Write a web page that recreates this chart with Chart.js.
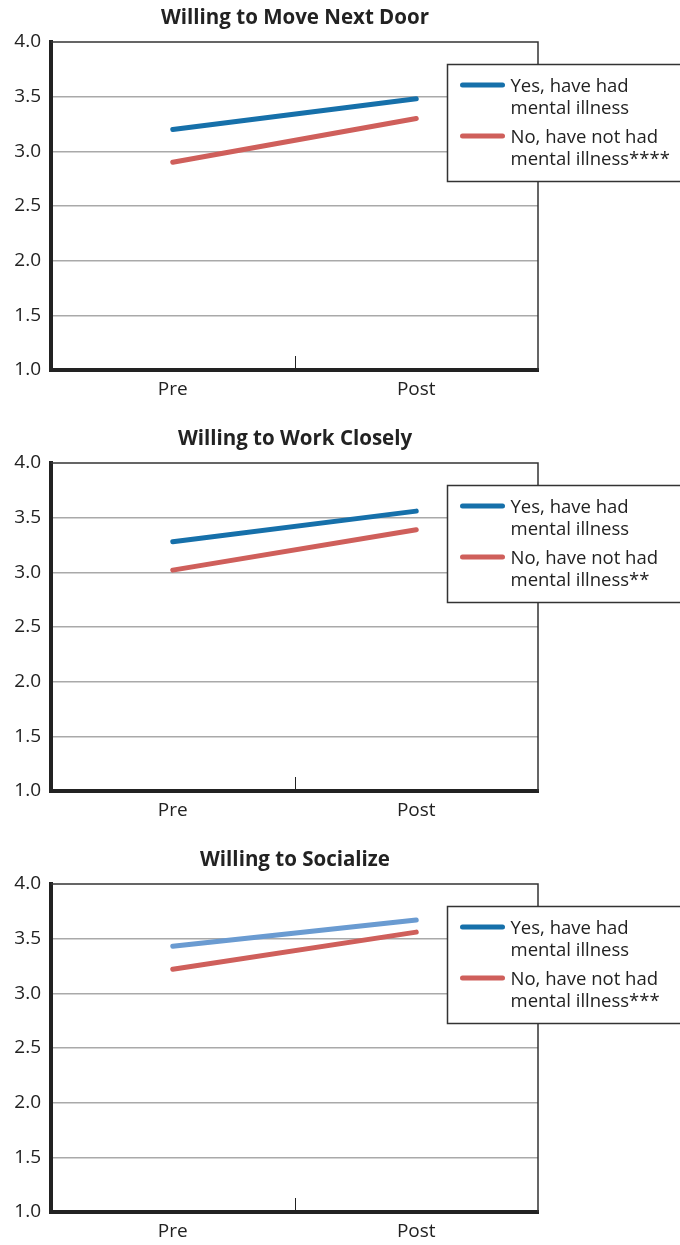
<!DOCTYPE html>
<html>
<head>
<meta charset="utf-8">
<script src="https://cdn.jsdelivr.net/npm/chart.js@4"></script>
<style>
  html, body { margin: 0; padding: 0; background: #fff; overflow: hidden; }
  body { width: 680px; height: 1245px; position: relative; }
  .panel { position: absolute; left: 0; width: 680px; height: 410px; }
</style>
</head>
<body>
<div class="panel" style="top:0px"><canvas id="chart1" width="680" height="410"></canvas></div>
<div class="panel" style="top:421px"><canvas id="chart2" width="680" height="410"></canvas></div>
<div class="panel" style="top:842px"><canvas id="chart3" width="680" height="410"></canvas></div>
<script>
// 数据
const categories = ['Pre', 'Post'];
const titles = ['Willing to Move Next Door', 'Willing to Work Closely', 'Willing to Socialize'];
const yesLabel = ['Yes, have had', 'mental illness'];
const noLabelStars = ['****', '**', '***'];

const yesMoveNextDoor = [3.2, 3.48];
const noMoveNextDoor = [2.9, 3.3];
const yesWorkClosely = [3.28, 3.56];
const noWorkClosely = [3.02, 3.39];
const yesSocialize = [3.43, 3.67];
const noSocialize = [3.22, 3.56];

const yMin = 1.0, yMax = 4.0, yStep = 0.5;

const FONT = '"Open Sans", "DejaVu Sans", sans-serif';
const BLUE = '#1670aa';
const LIGHT_BLUE = '#6a9bd1';
const RED = '#cf5f5b';

/**
 * 边框 + 中间刻度 + 标题 + 图例
 */
const framePlugin = {
    id: 'frame',
    beforeDatasetsDraw(chart) {
        let ctx = chart.ctx, a = chart.chartArea;
        ctx.save();
        ctx.strokeStyle = '#333';
        ctx.lineWidth = 1.5;
        ctx.beginPath();
        ctx.moveTo(a.left, a.top);
        ctx.lineTo(a.right, a.top);
        ctx.lineTo(a.right, a.bottom);
        ctx.stroke();

        // 中间小刻度
        let x = chart.scales.x;
        let mid = Math.round((x.getPixelForValue(0) + x.getPixelForValue(1)) / 2) + 0.5;
        ctx.strokeStyle = '#222';
        ctx.lineWidth = 1;
        ctx.beginPath();
        ctx.moveTo(mid, a.bottom - 14);
        ctx.lineTo(mid, a.bottom);
        ctx.stroke();
        ctx.restore();
    },
    afterDraw(chart, args, opts) {
        let ctx = chart.ctx, a = chart.chartArea;
        ctx.save();
        ctx.fillStyle = '#222';
        ctx.font = 'bold 20.5px ' + FONT;
        ctx.textAlign = 'center';
        ctx.textBaseline = 'middle';
        ctx.fillText(opts.title, 295, 18.5);

        // 图例
        let bx = 447.5, by = a.top + 22.5, bw = 250, bh = 117;
        ctx.fillStyle = '#fff';
        ctx.fillRect(bx, by, bw, bh);
        ctx.strokeStyle = '#333';
        ctx.lineWidth = 1.5;
        ctx.strokeRect(bx, by, bw, bh);

        ctx.font = '18.5px ' + FONT;
        ctx.textAlign = 'left';
        let rowY = [by + 21, by + 72];
        chart.data.datasets.forEach(function (ds, i) {
            let y = rowY[i];
            ctx.strokeStyle = ds.legendColor;
            ctx.lineWidth = 5;
            ctx.lineCap = 'round';
            ctx.beginPath();
            ctx.moveTo(bx + 15, y - 0.5);
            ctx.lineTo(bx + 55, y - 0.5);
            ctx.stroke();
            ctx.fillStyle = '#222';
            ds.label.forEach(function (line, j) {
                ctx.fillText(line, bx + 63, y + 1 + j * 22);
            });
        });
        ctx.restore();
    }
};

function makeChart(id, title, yesVals, noVals, stars, yesColor) {
    let canvas = document.getElementById(id).getContext('2d');
    return new Chart(canvas, {
        type: 'line',
        data: {
            labels: categories,
            datasets: [{
                label: yesLabel,
                data: yesVals,
                borderColor: yesColor,
                legendColor: BLUE,
                borderWidth: 5,
                borderCapStyle: 'round',
                pointRadius: 0
            }, {
                label: ['No, have not had', 'mental illness' + stars],
                data: noVals,
                borderColor: RED,
                legendColor: RED,
                borderWidth: 5,
                borderCapStyle: 'round',
                pointRadius: 0
            }]
        },
        options: {
            responsive: false,
            animation: false,
            layout: { padding: { top: 42, right: 142, left: 0, bottom: 0 } },
            plugins: {
                legend: { display: false },
                tooltip: { enabled: false },
                frame: { title: title }
            },
            scales: {
                x: {
                    offset: true,
                    grid: { display: false },
                    border: { display: true, color: '#222', width: 4 },
                    ticks: { color: '#222', font: { family: FONT, size: 19 }, padding: 0 },
                    afterFit: function (s) { s.height = 40; }
                },
                y: {
                    min: yMin,
                    max: yMax,
                    ticks: {
                        stepSize: yStep,
                        color: '#222',
                        padding: 10,
                        font: { family: FONT, size: 19 },
                        callback: function (v) { return v.toFixed(1); }
                    },
                    grid: {
                        drawTicks: false,
                        lineWidth: 1.5,
                        color: function (c) {
                            return (c.tick.value === yMin || c.tick.value === yMax) ? 'rgba(0,0,0,0)' : '#a9a9a9';
                        }
                    },
                    border: { display: true, color: '#222', width: 4 },
                    afterFit: function (s) { s.width = 51; }
                }
            }
        },
        plugins: [framePlugin]
    });
}

makeChart('chart1', titles[0], yesMoveNextDoor, noMoveNextDoor, noLabelStars[0], BLUE);
makeChart('chart2', titles[1], yesWorkClosely, noWorkClosely, noLabelStars[1], BLUE);
makeChart('chart3', titles[2], yesSocialize, noSocialize, noLabelStars[2], LIGHT_BLUE);
</script>
</body>
</html>
